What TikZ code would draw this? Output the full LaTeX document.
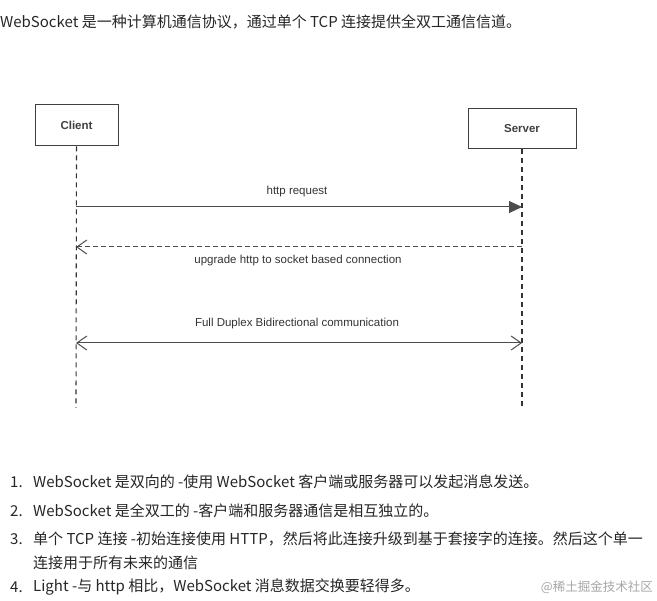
\documentclass[tikz,border=0pt]{standalone}
\usepackage{fontspec}
\setmainfont{Noto Sans CJK SC}
\newfontfamily\arialf{Liberation Sans}
\usetikzlibrary{arrows.meta}
\begin{document}
\begin{tikzpicture}[x=1pt,y=-1pt,
  txt/.style={font=\fontsize{15}{18}\selectfont, text=black!85, anchor=west, inner sep=0},
  lbl/.style={font=\arialf\fontsize{11.5}{13}\selectfont, text=black!80, inner sep=0},
  actor/.style={draw=black!75, line width=1pt, inner sep=0, font=\arialf\bfseries\fontsize{11.5}{13}\selectfont, text=black!75},
  life/.style={dash pattern=on 5pt off 4pt, draw=black!80, line width=1.1pt},
  msg/.style={draw=black!70, line width=1pt}]
\useasboundingbox (0,0) rectangle (657,601);
\node[txt] (title) at (0,22) {WebSocket 是一种计算机通信协议，通过单个 TCP 连接提供全双工通信信道。};
\node[actor, minimum width=83pt, minimum height=41pt] (client) at (76.5,125.5) {Client};
\node[actor, minimum width=108pt, minimum height=40pt] (server) at (522,129) {Server};
\coordinate (ce) at (76,408);
\coordinate (se) at (522,410);
\draw[life] (client.south) -- (ce);
\draw[life] (server.south) -- (se);
\coordinate (c1) at (76,207); \coordinate (s1) at (522,207);
\coordinate (c2) at (76,247); \coordinate (s2) at (522,247);
\coordinate (c3) at (76,343); \coordinate (s3) at (522,343);
\draw[msg, -{Triangle[length=13pt,width=12pt]}] (c1) -- (s1);
\node[lbl] (l1) at (297,192) {http request};
\draw[msg, dash pattern=on 5pt off 3pt, -{Straight Barb[length=10pt,width=14pt]}] (s2) -- (c2);
\node[lbl] (l2) at (298,261) {upgrade http to socket based connection};
\draw[msg, {Straight Barb[length=10pt,width=14pt]}-{Straight Barb[length=10pt,width=14pt]}] (c3) -- (s3);
\node[lbl] (l3) at (297,324) {Full Duplex Bidirectional communication};
\node[txt] (n1) at (10,482) {1.};
\node[txt] (t1) at (33,482) {WebSocket 是双向的 -使用 WebSocket 客户端或服务器可以发起消息发送。};
\node[txt] (n2) at (10,511) {2.};
\node[txt] (t2) at (33,511) {WebSocket 是全双工的 -客户端和服务器通信是相互独立的。};
\node[txt] (n3) at (10,539) {3.};
\node[txt] (t3) at (33,539) {单个 TCP 连接 -初始连接使用 HTTP，然后将此连接升级到基于套接字的连接。然后这个单一};
\node[txt] (t3b) at (33,563) {连接用于所有未来的通信};
\node[txt] (n4) at (10,587) {4.};
\node[txt] (t4) at (33,587) {Light -与 http 相比，WebSocket 消息数据交换要轻得多。};
\node[txt, anchor=east, text=black!35, font=\fontsize{12.5}{14}\selectfont] (wm) at (653,587) {@稀土掘金技术社区};
\end{tikzpicture}
\end{document}
